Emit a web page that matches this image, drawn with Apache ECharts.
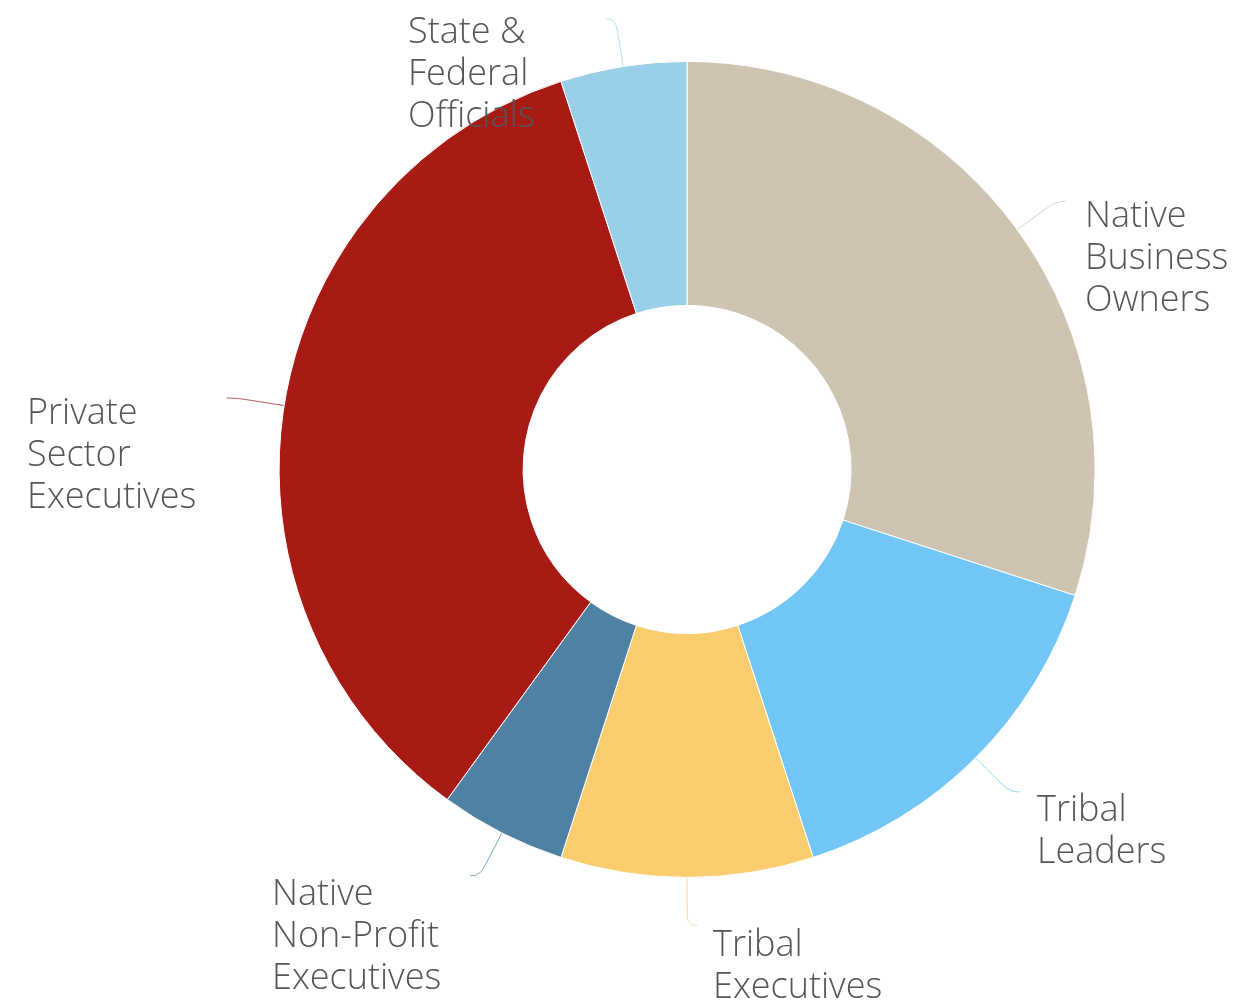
<!DOCTYPE html>
<html>
<head>
<meta charset="utf-8">
<script src="https://cdn.jsdelivr.net/npm/echarts@6/dist/echarts.min.js"></script>
<style>
  html, body { margin: 0; padding: 0; background: #fff; }
  #chart { width: 1238px; height: 1003px; }
</style>
</head>
<body>
<div id="chart"></div>
<script>
// slices, clockwise from 12 o'clock
const categories = [
  'Native\nBusiness\nOwners',
  'Tribal\nLeaders',
  'Tribal\nExecutives',
  'Native\nNon-Profit\nExecutives',
  'Private\nSector\nExecutives',
  'State &\nFederal\nOfficials'
]
const shares = [30, 15, 10, 5, 35, 5]
const colors = ['#cfc4b1', '#72c6f6', '#f9cc6e', '#4f81a3', '#a81a14', '#9acfe9']

// top-left corner of each label block (layout only)
const labelSpots = [
  [1085, 196],
  [1037, 790],
  [713, 925],
  [272, 874],
  [27, 393],
  [408, 12]
]

const chart = echarts.init(document.getElementById('chart'))

chart.setOption({
  animation: false,
  series: [
    {
      type: 'pie',
      center: ['55.5%', '46.8%'],
      radius: [164, 408],
      startAngle: 90,
      clockwise: true,
      avoidLabelOverlap: false,
      itemStyle: { borderColor: '#fff', borderWidth: 1 },
      label: {
        show: true,
        position: 'outside',
        color: '#555',
        fontFamily: 'Open Sans',
        fontWeight: 300,
        fontSize: 36,
        lineHeight: 42
      },
      labelLine: {
        show: true,
        length: 48,
        length2: 10,
        smooth: 0.5,
        lineStyle: { width: 1, opacity: 0.75 }
      },
      labelLayout: (p) => ({
        x: labelSpots[p.dataIndex][0],
        y: labelSpots[p.dataIndex][1],
        align: 'left',
        verticalAlign: 'top',
        labelLinePoints: p.labelLinePoints
      }),
      data: categories.map((name, i) => ({
        name,
        value: shares[i],
        itemStyle: { color: colors[i] }
      }))
    }
  ]
})
</script>
</body>
</html>
